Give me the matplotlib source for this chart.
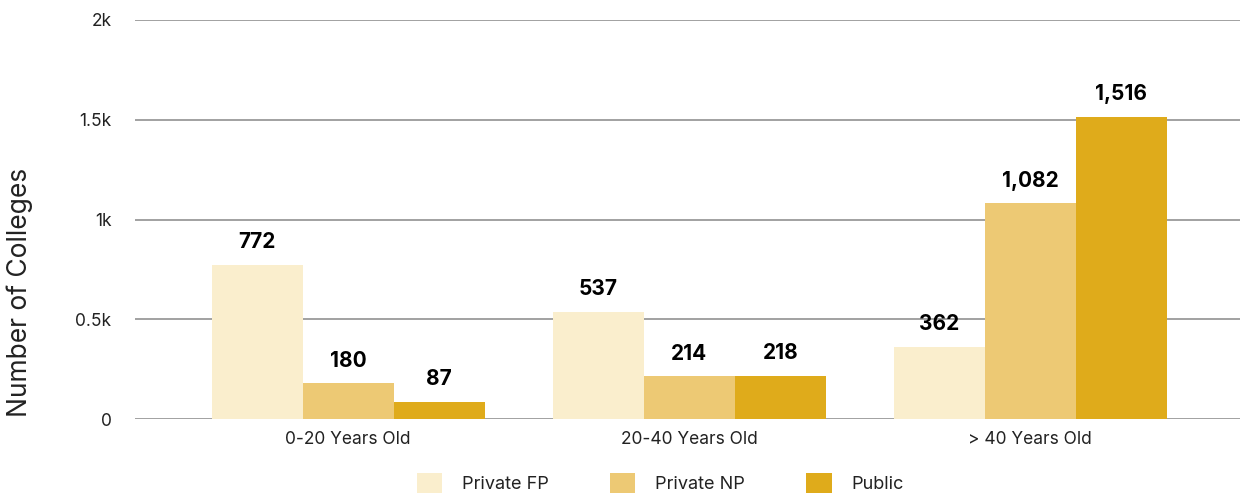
import matplotlib.pyplot as plt
import numpy as np

# data
age_groups = ['0-20 Years Old', '20-40 Years Old', '> 40 Years Old']
private_fp = [772, 537, 362]
private_np = [180, 214, 1082]
public = [87, 218, 1516]

series_names = ['Private FP', 'Private NP', 'Public']
colors = ['#FAEECD', '#EDC974', '#DFAB1B']

plt.rcParams['font.family'] = ['Inter', 'DejaVu Sans']

fig = plt.figure(figsize=(12.41, 4.99), dpi=100)
ax = fig.add_axes([135 / 1241, 1 - 419 / 499, 1105 / 1241, 399 / 499])

x = np.arange(len(age_groups))
width = 0.267
for i, (vals, name) in enumerate(zip([private_fp, private_np, public], series_names)):
    bars = ax.bar(x + (i - 1) * width, vals, width, color=colors[i], label=name, zorder=3)
    ax.bar_label(bars, labels=[f'{v:,}' for v in vals], padding=9,
                 fontsize=15, fontweight='bold', color='black')

ax.set_ylim(0, 2000)
ax.set_xlim(-0.625, 2.615)
ax.set_yticks([0, 500, 1000, 1500, 2000])
ax.set_yticklabels(['0', '0.5k', '1k', '1.5k', '2k'])
ax.set_xticks(x)
ax.set_xticklabels(age_groups)
ax.tick_params(axis='y', length=0, pad=17, labelsize=12.5, labelcolor='#222222')
ax.tick_params(axis='x', length=0, pad=9, labelsize=12.5, labelcolor='#222222')
ax.grid(axis='y', color='#9a9a9a', linewidth=1.3, zorder=0)
for s in ax.spines.values():
    s.set_visible(False)

fig.text(20 / 1241, 1 - 292 / 499, 'Number of Colleges', rotation=90, fontsize=19,
         ha='center', va='center', color='#222222')

fig.legend(loc='center', bbox_to_anchor=(0.532, 1 - 483 / 499), ncol=3, frameon=False,
           fontsize=13, handlelength=1.4, handleheight=1.4, handletextpad=1.1,
           columnspacing=3.4, labelcolor='#222222')

plt.savefig('out.png', dpi=100)
